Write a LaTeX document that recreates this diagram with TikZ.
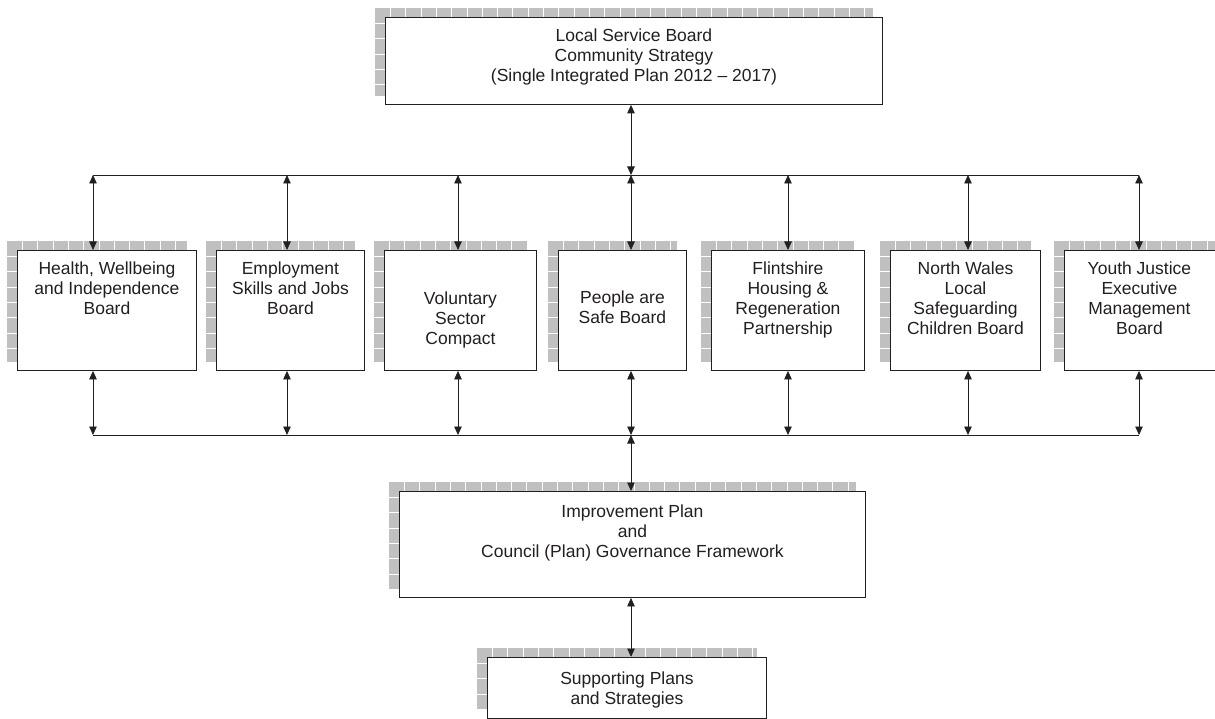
\documentclass[tikz,border=0pt]{standalone}
\usepackage{fontspec}
\setmainfont{Liberation Sans}
\usetikzlibrary{arrows.meta,positioning,backgrounds}
\definecolor{shadowgrey}{RGB}{192,192,192}
\definecolor{inkgrey}{RGB}{35,31,32}
\tikzset{
  board/.style={draw=inkgrey, fill=white, line width=0.9pt, anchor=north west, inner sep=0pt},
  boardtext/.style={align=center, inner sep=0pt, text=inkgrey, font=\fontsize{17.5}{20}\selectfont},
  link/.style={{Triangle[length=8.5pt,width=7.5pt]}-{Triangle[length=8.5pt,width=7.5pt]}, draw=inkgrey, line width=0.8pt},
  rail/.style={draw=inkgrey, line width=0.8pt},
  gridline/.style={white, line width=0.6pt}
}
% grey squared shadow behind a board
\newcommand{\gridshadow}[1]{%
  \begin{scope}
    \clip ([shift={(-10,-9)}]#1.north west) rectangle ([shift={(-10,-9)}]#1.south east);
    \fill[shadowgrey] ([shift={(-10,-9)}]#1.north west) rectangle ([shift={(-10,-9)}]#1.south east);
    \begin{scope}[shift={([shift={(-10,-9)}]#1.north west)}]
      \foreach \k in {1,...,40} \draw[gridline] (\k*15.3,0) -- (\k*15.3,200);
      \foreach \k in {1,...,10} \draw[gridline] (0,\k*15.3) -- (700,\k*15.3);
    \end{scope}
  \end{scope}}
\begin{document}
\begin{tikzpicture}[x=1pt,y=-1pt]
\useasboundingbox (0,0) rectangle (1215,719);

% Local Service Board
\node[board, minimum width=497pt, minimum height=87pt] (lsb) at (385,17) {};
\node[boardtext, below=12pt of lsb.north] (lsbtxt) {Local Service Board\\Community Strategy\\(Single Integrated Plan 2012 -- 2017)};

% partnership boards
\node[board, minimum width=179pt, minimum height=120pt] (hw) at (17,250) {};
\node[boardtext, below=12pt of hw.north] (hwtxt) {Health, Wellbeing\\and Independence\\Board};
\node[board, minimum width=148pt, minimum height=120pt] (esj) at (216,250) {};
\node[boardtext, below=12pt of esj.north] (esjtxt) {Employment\\Skills and Jobs\\Board};
\node[board, minimum width=152pt, minimum height=120pt] (vsc) at (384,250) {};
\node[boardtext, below=42pt of vsc.north] (vsctxt) {Voluntary\\Sector\\Compact};
\node[board, minimum width=128pt, minimum height=120pt] (pas) at (558,250) {};
\node[boardtext, below=41pt of pas.north] (pastxt) {People are\\Safe Board};
\node[board, minimum width=153pt, minimum height=120pt] (fhr) at (711,250) {};
\node[boardtext, below=12pt of fhr.north] (fhrtxt) {Flintshire\\Housing \&\\Regeneration\\Partnership};
\node[board, minimum width=150pt, minimum height=120pt] (nwl) at (890,250) {};
\node[boardtext, below=12pt of nwl.north] (nwltxt) {North Wales\\Local\\Safeguarding\\Children Board};
\node[board, minimum width=160pt, minimum height=120pt] (yje) at (1064,250) {};
\node[boardtext, below=12pt of yje.north, xshift=-5pt] (yjetxt) {Youth Justice\\Executive\\Management\\Board};

% council plans
\node[board, minimum width=466pt, minimum height=106pt] (imp) at (399,491) {};
\node[boardtext, below=14pt of imp.north] (imptxt) {Improvement Plan\\and\\Council (Plan) Governance Framework};
\node[board, minimum width=279pt, minimum height=61pt] (sps) at (487,657) {};
\node[boardtext, below=15pt of sps.north] (spstxt) {Supporting Plans\\and Strategies};

\begin{scope}[on background layer]
  \foreach \b in {lsb,hw,esj,vsc,pas,fhr,nwl,yje,imp,sps} {\gridshadow{\b}}
\end{scope}

% rails and connectors
\coordinate (toprail) at (631,175);
\coordinate (lowrail) at (631,435);
\draw[rail] (93,175) -- (1139,175);
\draw[rail] (93,435) -- (1139,435);
\draw[link] (toprail |- lsb.south) -- (toprail);
\foreach \n/\x in {hw/93, esj/287, vsc/458, pas/631, fhr/788, nwl/968, yje/1139} {
  \coordinate (\n up) at (\x,175);
  \coordinate (\n down) at (\x,435);
  \draw[link] (\n up) -- (\n up |- \n.north);
  \draw[link] (\n down |- \n.south) -- (\n down);
}
\draw[link] (lowrail) -- (lowrail |- imp.north);
\draw[link] (lowrail |- imp.south) -- (lowrail |- sps.north);
\end{tikzpicture}
\end{document}
